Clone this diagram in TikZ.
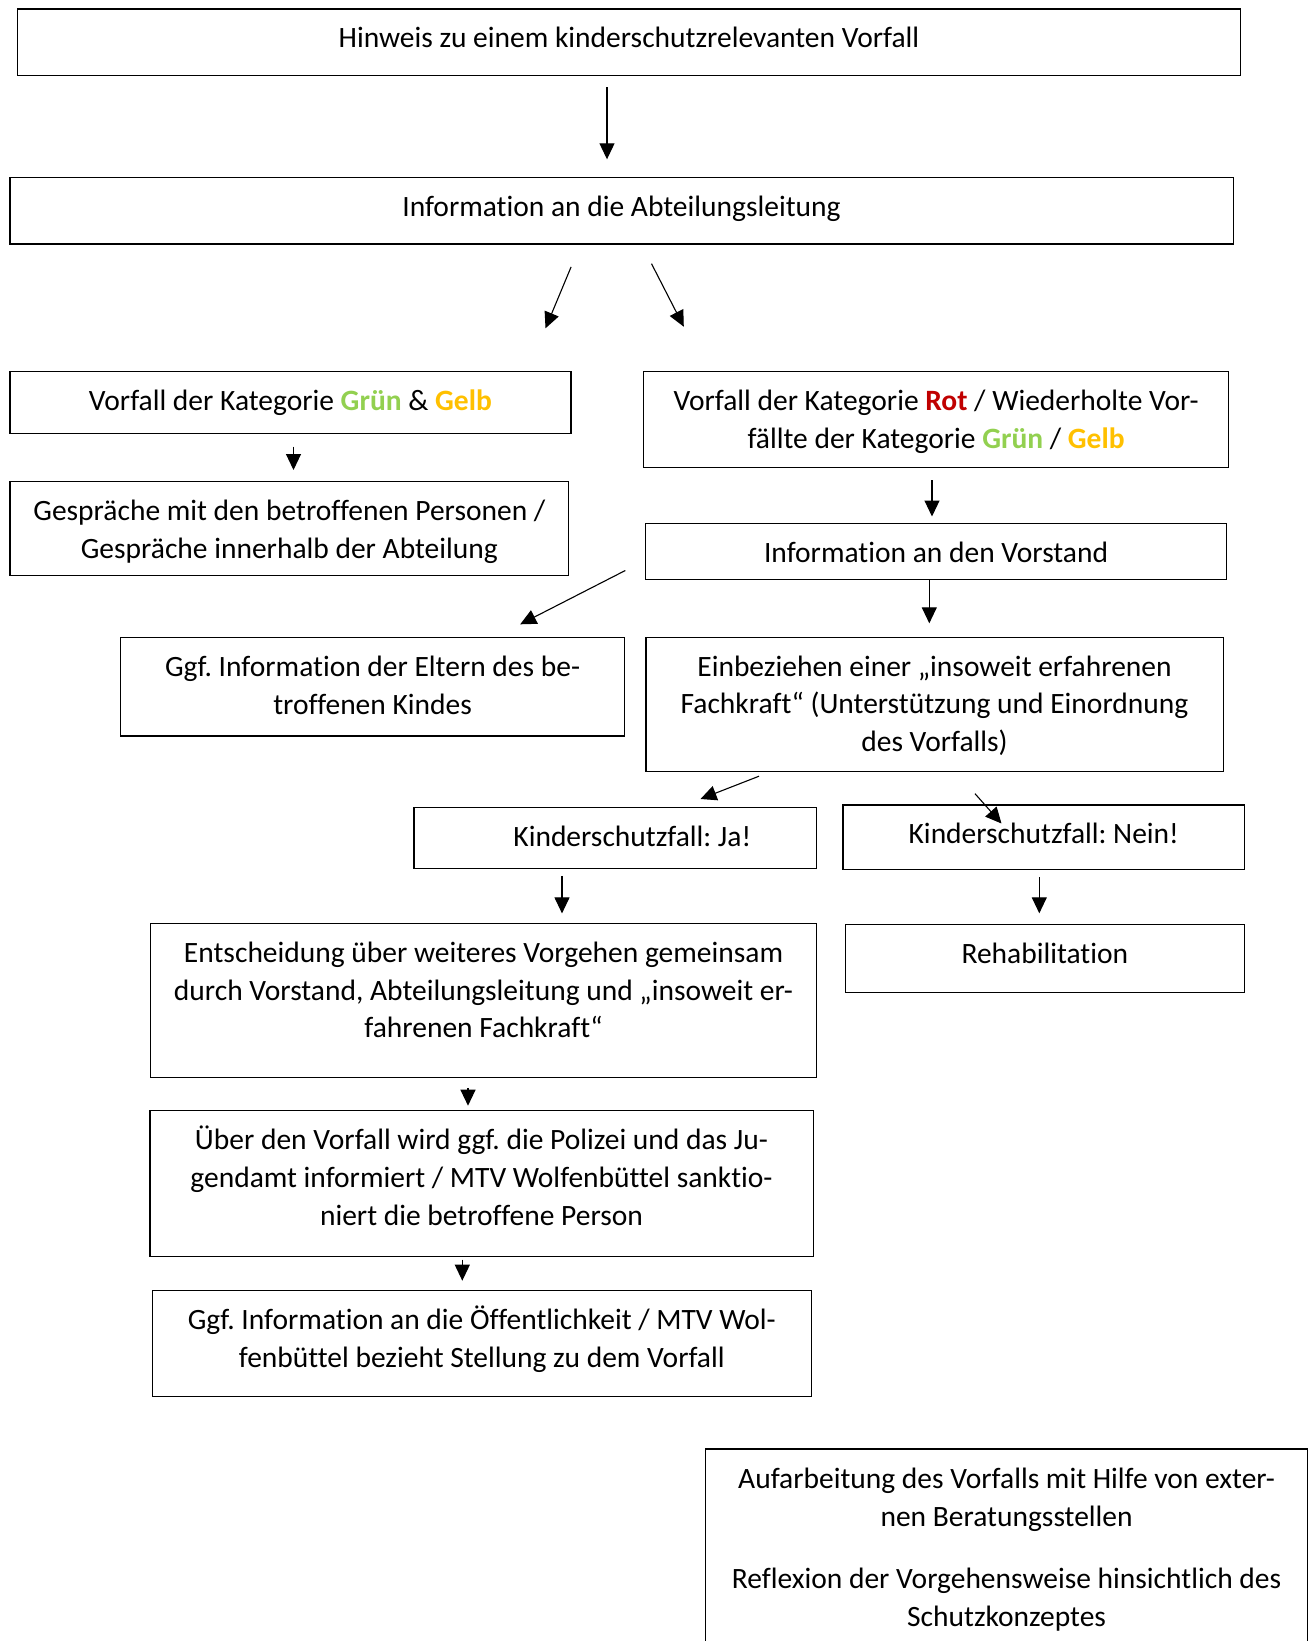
\documentclass[tikz,border=0pt]{standalone}
\usepackage{fontspec}
\setmainfont{Carlito}[Ligatures={TeX,NoCommon}]
\usetikzlibrary{arrows.meta,calc}

\definecolor{gruen}{RGB}{146,208,80}
\definecolor{gelb}{RGB}{255,192,0}
\definecolor{rot}{RGB}{192,0,0}
\newcommand{\kGruen}{\textcolor{gruen}{\textbf{Grün}}}
\newcommand{\kGelb}{\textcolor{gelb}{\textbf{Gelb}}}
\newcommand{\kRot}{\textcolor{rot}{\textbf{Rot}}}
% Inhalt eines Kastens: Breite, Hoehe, Text (oben ausgerichtet)
\newcommand{\inhalt}[3]{\begin{minipage}[t][#2][t]{#1}\setlength\topsep{0pt}\centering
    \rule{0pt}{39pt}#3\end{minipage}}

\tikzset{every picture/.style={line width=1pt}}

\begin{document}
\frenchspacing
\begin{tikzpicture}[x=1pt,y=1pt,yscale=-1,
    kasten/.style={draw,line width=1.2pt,inner sep=0pt,anchor=north west,
      font=\fontsize{29.5}{37.7}\selectfont},
    pfeil/.style={-{Triangle[length=16pt,width=15pt]},line width=1.1pt}]
    \useasboundingbox (0,0) rectangle (1310,1641);
    \coordinate (unten) at (0,1641);

    % Kaesten
    \node[kasten] (hinweis) at (16.7,8.3) {\inhalt{1223.3pt}{66.7pt}{Hinweis zu einem kinderschutzrelevanten Vorfall}};
    \node[kasten] (abteilung) at (9.3,176.7) {\inhalt{1223.2pt}{66.6pt}{Information an die Abteilungsleitung}};
    \node[kasten] (gruengelb) at (9.3,371) {\inhalt{561pt}{61.7pt}{Vorfall der Kategorie \kGruen{} \& \kGelb}};
    \node[kasten] (gespraeche) at (9.3,481) {\inhalt{558.9pt}{94pt}{Gespräche mit den betroffenen Personen /\\Gespräche innerhalb der Abteilung}};
    \node[kasten] (rot) at (643,371) {\inhalt{585pt}{96pt}{Vorfall der Kategorie \kRot{} / Wiederholte Vor-\\fällte der Kategorie \kGruen{} / \kGelb}};
    \node[kasten] (vorstand) at (645,523) {\inhalt{581pt}{56pt}{Information an den Vorstand}};
    \node[kasten] (eltern) at (120,636.7) {\inhalt{504pt}{98.6pt}{Ggf. Information der Eltern des be-\\troffenen Kindes}};
    \node[kasten] (fachkraft) at (645.3,636.5) {\inhalt{577.2pt}{134pt}{Einbeziehen einer „insoweit erfahrenen\\Fachkraft“ (Unterstützung und Einordnung\\des Vorfalls)}};
    \node[kasten] (ja) at (413.3,806.7) {\inhalt{402.8pt}{60.9pt}{\hspace*{34pt}Kinderschutzfall: Ja!}};
    \node[kasten] (nein) at (842.3,804.3) {\inhalt{401.7pt}{64.2pt}{Kinderschutzfall: Nein!}};
    \node[kasten] (entscheidung) at (149.7,922.8) {\inhalt{666.5pt}{153.7pt}{Entscheidung über weiteres Vorgehen gemeinsam\\durch Vorstand, Abteilungsleitung und „insoweit er-\\fahrenen Fachkraft“}};
    \node[kasten] (rehab) at (844.5,923.5) {\inhalt{399.5pt}{68pt}{Rehabilitation}};
    \node[kasten] (polizei) at (149.3,1110) {\inhalt{663.2pt}{146pt}{Über den Vorfall wird ggf. die Polizei und das Ju-\\gendamt informiert / MTV Wolfenbüttel sanktio-\\niert die betroffene Person}};
    \node[kasten] (oeffentlich) at (152,1290) {\inhalt{658.5pt}{106pt}{Ggf. Information an die Öffentlichkeit / MTV Wol-\\fenbüttel bezieht Stellung zu dem Vorfall}};
    \node[kasten,draw=none] (aufarbeitung) at (705.5,1449) {\inhalt{601pt}{192pt}{Aufarbeitung des Vorfalls mit Hilfe von exter-\\nen Beratungsstellen\\[24.5pt]Reflexion der Vorgehensweise hinsichtlich des\\Schutzkonzeptes}};
    \draw[line width=1.2pt] (aufarbeitung.north west |- unten) -- (aufarbeitung.north west) -- (aufarbeitung.north east) -- (aufarbeitung.north east |- unten);

    % Pfeile
    \draw[pfeil] ($(hinweis.south west)+(590.3,11)$) -- ($(abteilung.north west)+(597.7,-17.4)$);
    \draw[pfeil] ($(abteilung.south west)+(561.8,22.4)$) -- ($(gruengelb.north west)+(536.2,-42.7)$);
    \draw[pfeil] ($(abteilung.south west)+(642.2,19.2)$) -- ($(rot.north west)+(40.8,-44.3)$);
    \draw[pfeil] ($(gruengelb.south west)+(284.2,12.8)$) -- ($(gespraeche.north west)+(284.2,-11)$);
    \draw[pfeil] ($(rot.south west)+(289,12)$) -- ($(vorstand.north west)+(287,-6.5)$);
    \draw[pfeil] ($(vorstand.south west)+(-19.7,-9.7)$) -- ($(eltern.north west)+(400.2,-12.4)$);
    \draw[pfeil] ($(vorstand.south west)+(284.3,0)$) -- ($(fachkraft.north west)+(284,-13.2)$);
    \draw[pfeil] ($(fachkraft.south west)+(113.7,4.5)$) -- ($(ja.north west)+(287.2,-7.7)$);
    \draw[pfeil] ($(fachkraft.south west)+(329.7,22)$) -- ($(nein.north west)+(159.2,19.2)$);
    \draw[pfeil] ($(ja.south west)+(148.7,7.1)$) -- ($(entscheidung.north west)+(412.3,-9.4)$);
    \draw[pfeil] ($(nein.south west)+(197,7.5)$) -- ($(rehab.north west)+(194.8,-10.2)$);
    \draw[pfeil] ($(entscheidung.south west)+(318.3,10.2)$) -- ($(polizei.north west)+(318.7,-4.3)$);
    \draw[pfeil] ($(polizei.south west)+(313,2.3)$) -- ($(oeffentlich.north west)+(310.3,-9.3)$);
\end{tikzpicture}
\end{document}
